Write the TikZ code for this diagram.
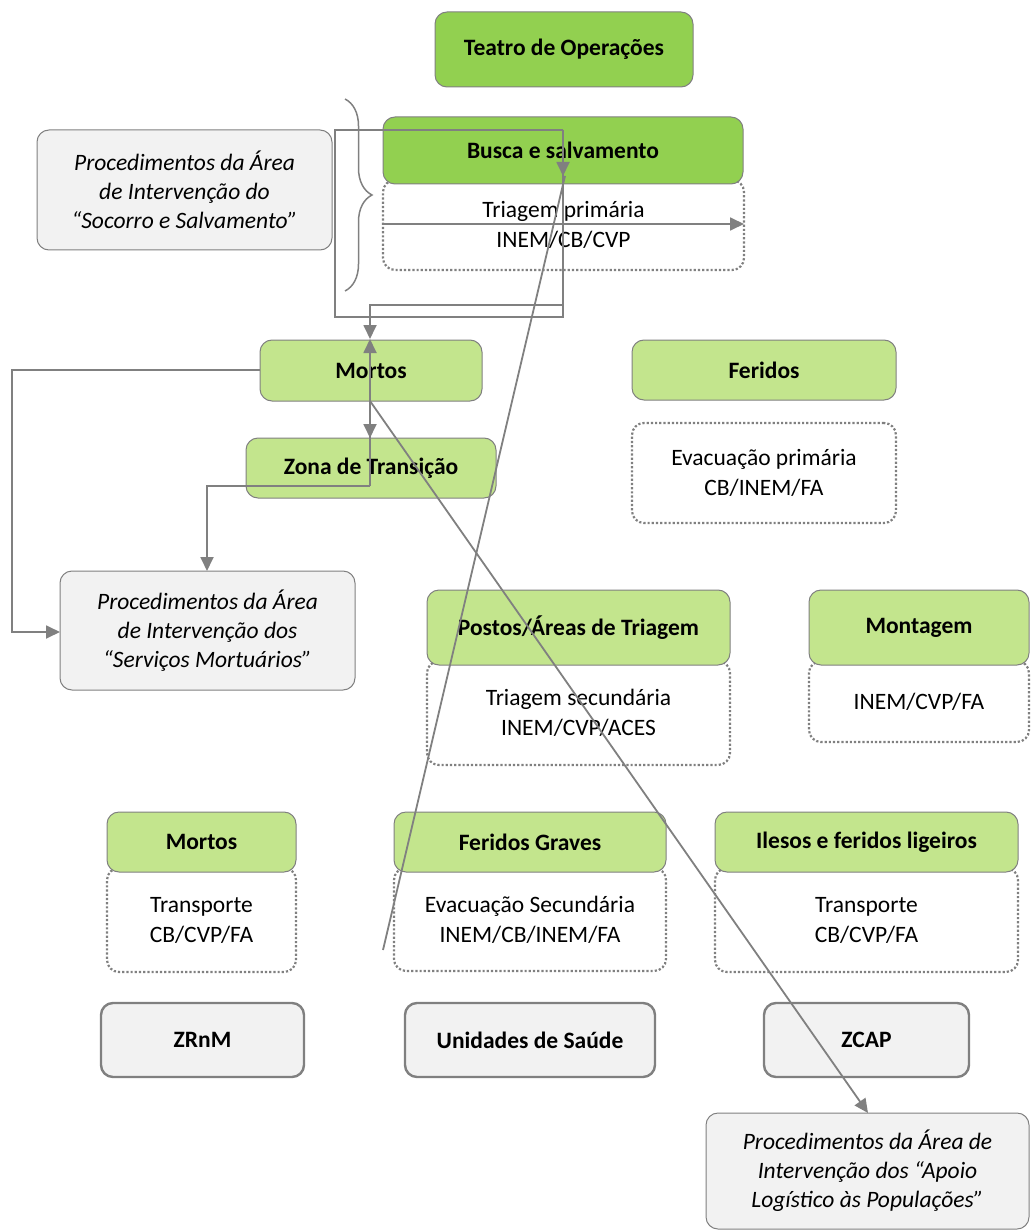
\documentclass[tikz,border=0pt]{standalone}
\usepackage{fontspec}
\setmainfont{Carlito}
\usetikzlibrary{arrows.meta,decorations.pathreplacing}
\definecolor{gA}{HTML}{92D050}
\definecolor{gB}{HTML}{C3E58D}
\definecolor{bfill}{HTML}{F2F2F2}
\definecolor{ln}{HTML}{808080}
\tikzset{
  base/.style={rounded corners=12pt, inner sep=0pt, outer sep=0pt, align=center},
  darkgreen/.style={base, draw=ln, line width=1pt, fill=gA, font=\fontsize{23.5}{28}\selectfont\bfseries},
  lightgreen/.style={base, draw=ln, line width=1pt, fill=gB, font=\fontsize{23.5}{28}\selectfont\bfseries},
  dotbox/.style={base, draw=ln, line width=2.2pt, dotted, fill=white, font=\fontsize{23.5}{30}\selectfont},
  procbox/.style={base, draw=ln, line width=1pt, fill=bfill, font=\fontsize{23.5}{29}\selectfont\itshape},
  destbox/.style={base, draw=ln, line width=2.4pt, fill=bfill, font=\fontsize{23.5}{28}\selectfont\bfseries},
  conn/.style={draw=ln, line width=1.8pt},
  arr/.style={conn, -{Triangle[length=14pt,width=13pt]}},
}
\begin{document}
\begin{tikzpicture}[x=1pt,y=-1pt]
\useasboundingbox (0,0) rectangle (1030,1230);
% top
\node[darkgreen, minimum width=258pt, minimum height=75pt] (teatro) at (564,49.5) {Teatro de Operações};
\node[dotbox, minimum width=361pt, minimum height=90pt] (triag1) at (563.5,225) {Triagem primária\\INEM/CB/CVP};
\node[darkgreen, minimum width=360pt, minimum height=67pt] (busca) at (563,150.5) {Busca e salvamento};
\node[procbox, minimum width=295pt, minimum height=120pt] (socorro) at (184.5,190) {Procedimentos da Área\\de Intervenção do\\“Socorro e Salvamento”};
\draw[ln, line width=1.5pt, decorate, decoration={brace, amplitude=27pt}] (345,99) -- (345,291);
% middle
\node[lightgreen, minimum width=222pt, minimum height=61pt] (mortos1) at (371,370.5) {Mortos};
\node[lightgreen, minimum width=264pt, minimum height=60pt] (feridos) at (764,370) {Feridos};
\node[dotbox, minimum width=264pt, minimum height=100pt] (evac1) at (764,473) {Evacuação primária\\CB/INEM/FA};
\node[lightgreen, minimum width=250pt, minimum height=60pt] (zona) at (371,468) {Zona de Transição};
\node[procbox, minimum width=295pt, minimum height=119pt] (mortuario) at (207.5,630.5) {Procedimentos da Área\\de Intervenção dos\\“Serviços Mortuários”};
\node[dotbox, minimum width=303pt, minimum height=104pt] (triag2) at (578.5,713) {Triagem secundária\\INEM/CVP/ACES};
\node[lightgreen, minimum width=303pt, minimum height=75pt] (postos) at (578.5,627.5) {Postos/Áreas de Triagem};
\node[dotbox, minimum width=220pt, minimum height=81pt] (mont2) at (919,701.5) {INEM/CVP/FA};
\node[lightgreen, minimum width=220pt, minimum height=75pt] (montagem) at (919,627.5) {Montagem};
% lower
\node[dotbox, minimum width=189pt, minimum height=104pt] (transp1) at (201.5,920) {Transporte\\CB/CVP/FA};
\node[lightgreen, minimum width=189pt, minimum height=60pt] (mortos2) at (201.5,842) {Mortos};
\node[dotbox, minimum width=272pt, minimum height=103pt] (evac2) at (530,919.5) {Evacuação Secundária\\INEM/CB/INEM/FA};
\node[lightgreen, minimum width=272pt, minimum height=60pt] (graves) at (530,842) {Feridos Graves};
\node[dotbox, minimum width=303pt, minimum height=104pt] (transp2) at (866.5,920) {Transporte\\CB/CVP/FA};
\node[lightgreen, minimum width=303pt, minimum height=60pt] (ilesos) at (866.5,842) {Ilesos e feridos ligeiros};
\node[destbox, minimum width=203pt, minimum height=74pt] (zrnm) at (202.5,1040) {ZRnM};
\node[destbox, minimum width=250pt, minimum height=74pt] (unidades) at (530,1040) {Unidades de Saúde};
\node[destbox, minimum width=205pt, minimum height=74pt] (zcap) at (866.5,1040) {ZCAP};
\node[procbox, minimum width=323pt, minimum height=116pt] (apoio) at (867.5,1171) {Procedimentos da Área de\\Intervenção dos “Apoio\\Logístico às Populações”};
% connector points
\coordinate (a1) at (563,317);
\coordinate (a2) at (335,317);
\coordinate (a3) at (335,130);
\coordinate (a4) at (563,130);
\coordinate (bt) at (563,176);
\coordinate (b1) at (563,305);
\coordinate (b2) at (370,305);
\coordinate (mtop) at (370,339);
\coordinate (mbot) at (370,401);
\coordinate (ztop) at (370,438);
\coordinate (zmid) at (370,486);
\coordinate (zl) at (207,486);
\coordinate (mtl) at (207,571);
\coordinate (ml) at (260,370);
\coordinate (e1) at (12,370);
\coordinate (e2) at (12,632);
\coordinate (mtw) at (60,632);
\coordinate (d1) at (383,950);
\coordinate (dtop) at (565,176);
\coordinate (t1) at (383,224);
\coordinate (t2) at (744,224);
\coordinate (ap) at (868,1113);
% connectors
\draw[conn] (a4) -- (a1) -- (a2) -- (a3) -- (a4);
\draw[arr] (a4) -- (bt);
\draw[arr] (b1) -- (b2) -- (mtop);
\draw[conn] (d1) -- (dtop);
\draw[arr] (t1) -- (t2);
\draw[arr] (mbot) -- (ztop);
\draw[arr] (zmid) -- (mtop);
\draw[arr] (zmid) -- (zl) -- (mtl);
\draw[arr] (ml) -- (e1) -- (e2) -- (mtw);
\draw[arr] (mbot) -- (ap);
\end{tikzpicture}
\end{document}
